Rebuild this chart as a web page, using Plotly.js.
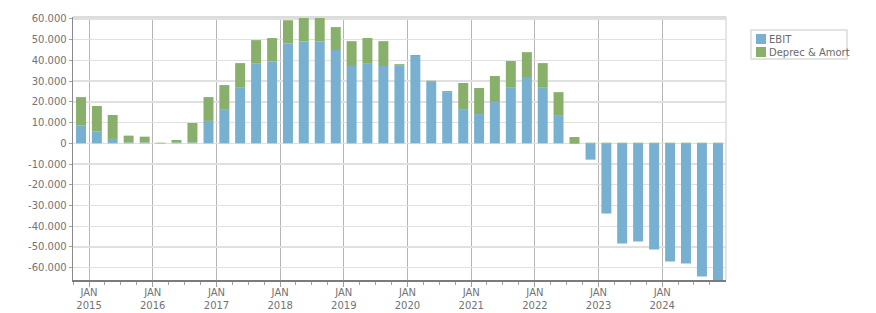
<!DOCTYPE html>
<html>
<head>
<meta charset="utf-8">
<script src="https://cdn.plot.ly/plotly-3.0.1.min.js"></script>
<style>html,body{margin:0;padding:0;background:#fff;}#chart{width:876px;height:313px;}</style>
</head>
<body>
<div id="chart"></div>
<script>
// Quarter start dates (bars are centred on the middle of each quarter)
const quarters = [
  '2014-10-01',
  '2015-01-01','2015-04-01','2015-07-01','2015-10-01',
  '2016-01-01','2016-04-01','2016-07-01','2016-10-01',
  '2017-01-01','2017-04-01','2017-07-01','2017-10-01',
  '2018-01-01','2018-04-01','2018-07-01','2018-10-01',
  '2019-01-01','2019-04-01','2019-07-01','2019-10-01',
  '2020-01-01','2020-04-01','2020-07-01','2020-10-01',
  '2021-01-01','2021-04-01','2021-07-01','2021-10-01',
  '2022-01-01','2022-04-01','2022-07-01','2022-10-01',
  '2023-01-01','2023-04-01','2023-07-01','2023-10-01',
  '2024-01-01','2024-04-01','2024-07-01','2024-10-01'
];
const ebit = [
  8500,
  5600, 2100, 400, 400,
  -100, 400, 400, 10800,
  16500, 27100, 38400, 39400,
  48300, 49300, 49300, 45000,
  37300, 38700, 37300, 37700,
  42100, 29700, 24700, 16500,
  14100, 19900, 27100, 32000,
  27100, 13600, -300, -7900,
  -33900, -48400, -47400, -51200,
  -57000, -58000, -64300, -67500
];
const deprecAmort = [
  13800,
  12400, 11550, 3300, 2800,
  300, 1200, 9400, 11500,
  11600, 11600, 11400, 11400,
  11100, 12200, 12200, 11100,
  12000, 12100, 12000, 500,
  500, 500, 500, 12600,
  12600, 12600, 12600, 12000,
  11600, 11100, 3050, 300,
  300, 300, 300, 300,
  300, 300, 300, 300
];
const seriesNames = ['EBIT', 'Deprec & Amort'];
const seriesColors = ['#78b0d2', '#89b06b'];
const yTickVals = [-60000,-50000,-40000,-30000,-20000,-10000,0,10000,20000,30000,40000,50000,60000];
const yTickText = ['-60.000','-50.000','-40.000','-30.000','-20.000','-10.000','0','10.000','20.000','30.000','40.000','50.000','60.000'];
const xTickVals = ['2015-01-01','2016-01-01','2017-01-01','2018-01-01','2019-01-01','2020-01-01','2021-01-01','2022-01-01','2023-01-01','2024-01-01'];
const xTickText = ['JAN<br>2015','JAN<br>2016','JAN<br>2017','JAN<br>2018','JAN<br>2019','JAN<br>2020','JAN<br>2021','JAN<br>2022','JAN<br>2023','JAN<br>2024'];

// layout geometry (pixels)
const W = 876, H = 313;
const M = {l: 73, r: 150, t: 17, b: 33};
const PW = W - M.l - M.r, PH = H - M.t - M.b;
const px = x => (x - M.l) / PW;
const py = y => (H - M.b - y) / PH;

const DAY = 86400000;
const barWidth = 57.2 * DAY;

// minor ticks at each quarter boundary
const minorVals = [];
for (let y = 2014; y <= 2024; y++) {
  ['-04-01','-07-01','-10-01'].forEach(m => minorVals.push(y + m));
}

const font = {family: 'DejaVu Sans, Verdana, sans-serif', size: 10, color: '#737373'};

const traces = [ebit, deprecAmort].map((vals, i) => ({
  type: 'bar',
  name: seriesNames[i],
  x: quarters,
  y: vals,
  xperiod: 'M3',
  xperiodalignment: 'middle',
  width: barWidth,
  marker: {color: seriesColors[i], line: {width: 0}},
  hoverinfo: 'x+y+name'
}));

const shapes = [
  // top frame and right frame lines
  {type: 'line', xref: 'paper', yref: 'paper', x0: 0, x1: 1, y0: 1, y1: 1, line: {color: '#dcdcdc', width: 2}},
  {type: 'line', xref: 'paper', yref: 'paper', x0: 1, x1: 1, y0: 0, y1: 1, line: {color: '#dcdcdc', width: 1.5}},
  // legend box
  {type: 'rect', xref: 'paper', yref: 'paper', x0: px(751), x1: px(847), y0: py(59), y1: py(30),
   line: {color: '#dadada', width: 1.5}, fillcolor: '#ffffff', layer: 'above'}
];
const annotations = [];
seriesNames.forEach((name, i) => {
  const cy = 39 + i * 13;
  shapes.push({type: 'rect', xref: 'paper', yref: 'paper', x0: px(756), x1: px(766), y0: py(cy + 5), y1: py(cy - 5),
    line: {width: 0}, fillcolor: seriesColors[i], layer: 'above'});
  annotations.push({xref: 'paper', yref: 'paper', x: px(767), y: py(cy), xanchor: 'left', yanchor: 'middle',
    text: name, showarrow: false, font: {family: font.family, size: 10, color: '#6a6a6a'}});
});

const layout = {
  width: W, height: H,
  margin: M,
  paper_bgcolor: '#ffffff',
  plot_bgcolor: '#ffffff',
  barmode: 'relative',
  showlegend: false,
  font: font,
  xaxis: {
    type: 'date',
    range: ['2014-10-01', '2025-01-01'],
    tickmode: 'array',
    tickvals: xTickVals,
    ticktext: xTickText,
    showgrid: true,
    gridcolor: '#b5b5b5',
    gridwidth: 1,
    ticks: 'outside',
    ticklen: 5,
    tickcolor: '#a0a0a0',
    ticklabelstandoff: -3,
    showline: true,
    linecolor: '#7c7c7c',
    linewidth: 2,
    zeroline: false,
    tickfont: font,
    minor: {tickmode: 'array', tickvals: minorVals, ticks: 'outside', ticklen: 3, tickcolor: '#a0a0a0', showgrid: false}
  },
  yaxis: {
    range: [-65975, 60955],
    tickmode: 'array',
    tickvals: yTickVals,
    ticktext: yTickText,
    showgrid: true,
    gridcolor: '#e0e0e0',
    gridwidth: 1.3,
    zeroline: false,
    ticks: 'outside',
    ticklen: 3,
    tickcolor: '#a0a0a0',
    showline: true,
    linecolor: '#8a8a8a',
    linewidth: 1.3,
    tickfont: font
  },
  shapes: shapes,
  annotations: annotations
};

Plotly.newPlot('chart', traces, layout, {displayModeBar: false, staticPlot: true});
</script>
</body>
</html>
